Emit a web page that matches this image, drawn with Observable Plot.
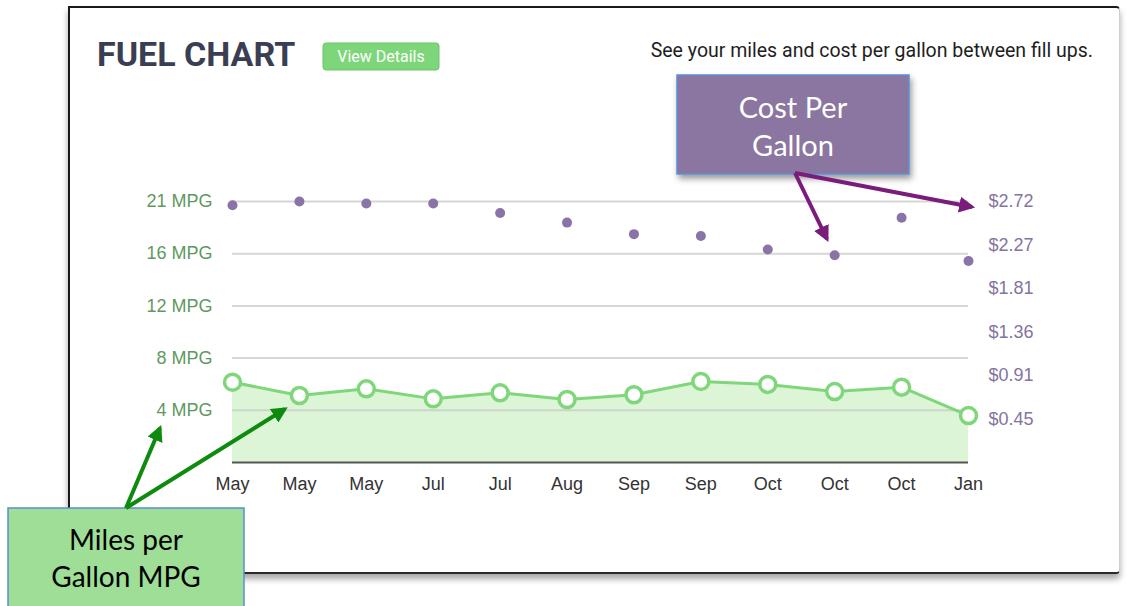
<!DOCTYPE html>
<html><head><meta charset="utf-8">
<script src="https://cdn.jsdelivr.net/npm/d3@7"></script>
<script src="https://cdn.jsdelivr.net/npm/@observablehq/plot@0.6"></script>
<style>
html,body{margin:0;padding:0;background:#fff;width:1132px;height:606px;overflow:hidden;position:relative}
#card{position:absolute;left:68px;top:6px;width:1052px;height:568px;border-top:2px solid #1a1a1a;border-left:2px solid #1a1a1a;border-right:1px solid #cfcfcf;border-bottom:2px solid #2a2a2a;box-shadow:0 5px 6px rgba(0,0,0,.35);box-sizing:border-box;border-radius:0 4px 4px 0;background:#fff}
#chart,#deco{position:absolute;left:0;top:0}
</style></head>
<body>
<div id="card"></div>
<div id="chart"></div>
<script>
// ---- data ----
const months = ["May","May","May","Jul","Jul","Aug","Sep","Sep","Oct","Oct","Oct","Jan"];
const mpg = [6.46,5.39,5.93,5.12,5.61,5.07,5.45,6.52,6.28,5.71,6.06,3.78];
const cost = [2.68,2.72,2.70,2.70,2.60,2.50,2.38,2.36,2.22,2.16,2.55,2.10];
const mpgTicks = [4.2,8.4,12.6,16.8,21];
const mpgTickLabels = ["4 MPG","8 MPG","12 MPG","16 MPG","21 MPG"];
const costTicks = [0.4533,0.9067,1.36,1.8133,2.2667,2.72];
const costTickLabels = ["$0.45","$0.91","$1.36","$1.81","$2.27","$2.72"];
const mpgMax = 21;
const costMax = 2.72;

const rows = months.map((m,i)=>({i, month:m, mpg:mpg[i], cost:cost[i], costY:cost[i]*mpgMax/costMax}));
const costTickPos = costTicks.map(c=>c*mpgMax/costMax);

const font = "'Liberation Sans', Arial, Helvetica, sans-serif";
const green = "#80d77b";

const chart = Plot.plot({
  width:1132, height:606,
  marginLeft:232, marginRight:164, marginTop:201, marginBottom:144,
  x:{type:"point", domain:d3.range(months.length), padding:0, round:false, range:[232,968], axis:null},
  y:{domain:[0,mpgMax], range:[462,201], axis:null},
  style:{background:"transparent", fontFamily:font, overflow:"visible"},
  marks:[
    Plot.areaY(rows,{x:"i", y:"mpg", fill:"#dbf5d6"}),
    Plot.gridY(mpgTicks,{stroke:"#c8c8c8", strokeOpacity:0.75, strokeWidth:2}),
    Plot.ruleY([0],{stroke:"#555", strokeWidth:2}),
    Plot.lineY(rows,{x:"i", y:"mpg", stroke:green, strokeWidth:3}),
    Plot.dot(rows,{x:"i", y:"mpg", r:8, fill:"white", stroke:green, strokeWidth:3.5}),
    Plot.dot(rows,{x:"i", y:"costY", r:5, fill:"#8a73a6"}),
    Plot.axisY(mpgTicks,{anchor:"left", label:null, tickSize:0, tickPadding:20, fontSize:18, fill:"#5f9862",
      tickFormat:d=>mpgTickLabels[mpgTicks.indexOf(d)]}),
    Plot.axisY(costTickPos,{anchor:"right", label:null, tickSize:0, tickPadding:20, fontSize:18, fill:"#8474a0",
      tickFormat:d=>costTickLabels[costTickPos.indexOf(d)]}),
    Plot.axisX(d3.range(months.length),{anchor:"bottom", label:null, tickSize:0, tickPadding:15, fontSize:18, fill:"#333",
      tickFormat:i=>months[i]})
  ]
});
document.getElementById("chart").appendChild(chart);

// ---- decorations: header and annotation callouts ----
const svg = d3.select("body").append("svg").attr("id","deco").attr("width",1132).attr("height",606);
const defs = svg.append("defs");
function marker(id,color){
  defs.append("marker").attr("id",id).attr("viewBox","0 0 10 10").attr("refX",8).attr("refY",5)
    .attr("markerWidth",4).attr("markerHeight",4).attr("orient","auto")
    .append("path").attr("d","M0,0 L10,5 L0,10 z").attr("fill",color);
}
marker("ag","#0e8a0e"); marker("ap","#7a1c7c");
const f = defs.append("filter").attr("id","sh").attr("x","-10%").attr("y","-10%").attr("width","130%").attr("height","140%");
f.append("feDropShadow").attr("dx",2).attr("dy",4).attr("stdDeviation",3).attr("flood-opacity",0.4);

svg.append("text").attr("x",97).attr("y",66).attr("font-family","Roboto").attr("font-weight",700)
  .attr("font-size",34).attr("fill","#3a3e52").text("FUEL CHART");
svg.append("rect").attr("x",323).attr("y",43).attr("width",116).attr("height",27).attr("rx",3).attr("fill","#7dd67a")
  .attr("stroke","#6cc56a").attr("stroke-width",1);
svg.append("text").attr("x",381).attr("y",62).attr("text-anchor","middle").attr("font-family","Roboto")
  .attr("font-size",16).attr("fill","#fff").text("View Details");
svg.append("text").attr("x",1093).attr("y",57).attr("text-anchor","end").attr("font-family","Roboto")
  .attr("font-size",19.5).attr("fill","#1e1e1e").text("See your miles and cost per gallon between fill ups.");

// cost callout
svg.append("rect").attr("x",677).attr("y",75).attr("width",232).attr("height",99).attr("fill","#8a76a0")
  .attr("stroke","#5b8fd4").attr("stroke-width",1.5).attr("filter","url(#sh)");
[["Cost Per",118],["Gallon",156]].forEach(([t,y])=>svg.append("text").attr("x",793).attr("y",y).attr("text-anchor","middle")
  .attr("font-family","Lato").attr("font-size",29).attr("fill","#fff").text(t));
[[827,239],[972,207]].forEach(([x,y])=>svg.append("line").attr("x1",795).attr("y1",173).attr("x2",x).attr("y2",y)
  .attr("stroke","#7a1c7c").attr("stroke-width",4).attr("marker-end","url(#ap)"));

// mpg callout
svg.append("rect").attr("x",8).attr("y",508).attr("width",236).attr("height",110).attr("fill","#9ede97")
  .attr("stroke","#5b8fd4").attr("stroke-width",1.5);
[["Miles per",550],["Gallon MPG",587]].forEach(([t,y])=>svg.append("text").attr("x",126).attr("y",y).attr("text-anchor","middle")
  .attr("font-family","Lato").attr("font-size",28).attr("fill","#000").text(t));
[[160,428],[285,409]].forEach(([x,y])=>svg.append("line").attr("x1",126).attr("y1",508).attr("x2",x).attr("y2",y)
  .attr("stroke","#0e8a0e").attr("stroke-width",4).attr("marker-end","url(#ag)"));
</script>
</body></html>
